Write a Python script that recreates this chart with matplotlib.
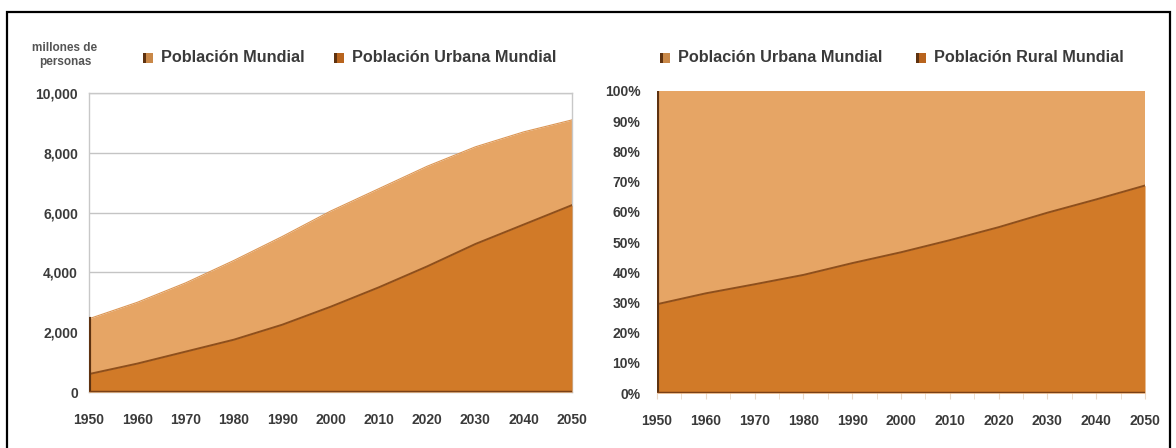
import matplotlib
matplotlib.use('Agg')
import matplotlib.pyplot as plt
from matplotlib.patches import Rectangle
from matplotlib.ticker import FuncFormatter, MultipleLocator

plt.rcParams['font.family'] = ['Liberation Sans', 'DejaVu Sans']
plt.rcParams['font.weight'] = 'bold'

years = [1950, 1960, 1970, 1980, 1990, 2000, 2010, 2020, 2030, 2040, 2050]
# millions of people
world_pop = [2450, 3000, 3650, 4400, 5200, 6050, 6800, 7550, 8200, 8700, 9100]
urban_pop = [600, 950, 1350, 1750, 2250, 2850, 3500, 4200, 4950, 5600, 6250]
# share of world population living in cities (%)
urban_share = [29.4, 33.0, 36.0, 39.1, 43.0, 46.6, 50.6, 54.9, 59.7, 64.1, 68.7]
rural_top = [100] * len(years)

light = '#E6A565'
dark = '#D17A28'
edge = '#8E4F1C'
side = '#5E3210'
text_col = '#3a3a3a'

fig = plt.figure(figsize=(11.76, 4.48), dpi=100)

# outer frame
fig.patches.append(Rectangle((7 / 1176, -0.05), 1163 / 1176, 1 - 12 / 448 + 0.05,
                             transform=fig.transFigure, fill=False,
                             edgecolor='black', linewidth=1.6))

# ---- left panel: absolute population ----
ax1 = fig.add_axes([89 / 1176, 56 / 448, 483 / 1176, 299 / 448])
ax1.fill_between(years, 0, world_pop, color=light, linewidth=0, zorder=2)
ax1.fill_between(years, 0, urban_pop, color=dark, linewidth=0, zorder=3)
ax1.plot(years, urban_pop, color=edge, linewidth=1.4, zorder=4)
ax1.plot(years, world_pop, color='#DC9654', linewidth=0.8, zorder=4)
ax1.plot([years[0], years[0]], [0, world_pop[0]], color=side, linewidth=3, zorder=5)
ax1.plot([years[0], years[-1]], [0, 0], color='#7a4016', linewidth=2.5, zorder=5)

ax1.set_xlim(1950, 2050)
ax1.set_ylim(0, 10000)
ax1.set_xticks(years)
ax1.set_yticks(range(0, 10001, 2000))
ax1.yaxis.set_major_formatter(FuncFormatter(lambda v, p: f'{int(v):,}'))
ax1.grid(axis='y', color='#c4c4c4', linewidth=1, zorder=0)
ax1.set_axisbelow(True)
for s in ax1.spines.values():
    s.set_color('#c8c8c8')
    s.set_linewidth(1)
ax1.tick_params(axis='both', length=0, labelsize=10, labelcolor=text_col)
ax1.tick_params(axis='x', pad=15)
ax1.tick_params(axis='y', pad=8)

# ---- right panel: urban vs rural share ----
ax2 = fig.add_axes([657 / 1176, 55 / 448, 488 / 1176, 302 / 448])
ax2.fill_between(years, 0, rural_top, color=light, linewidth=0, zorder=2)
ax2.fill_between(years, 0, urban_share, color=dark, linewidth=0, zorder=3)
ax2.plot(years, urban_share, color=edge, linewidth=1.4, zorder=4)
ax2.plot([years[0], years[0]], [0, 100], color=side, linewidth=3, zorder=5)
ax2.plot([years[0], years[-1]], [0, 0], color='#7a4016', linewidth=2.5, zorder=5)

ax2.set_xlim(1950, 2050)
ax2.set_ylim(0, 100)
ax2.set_xticks(years)
ax2.xaxis.set_minor_locator(MultipleLocator(5))
ax2.set_yticks(range(0, 101, 10))
ax2.yaxis.set_major_formatter(FuncFormatter(lambda v, p: f'{int(v)}%'))
for s in ax2.spines.values():
    s.set_visible(False)
ax2.tick_params(axis='y', length=0, labelsize=10, labelcolor=text_col, pad=12)
ax2.tick_params(axis='x', which='both', length=4, color='#ead9c8',
                labelsize=10, labelcolor=text_col, pad=11)

# ---- legends ----
def legend_item(x, y, label, color):
    fig.patches.append(Rectangle((x / 1176, 1 - (y + 5) / 448), 10 / 1176, 10 / 448,
                                 transform=fig.transFigure, facecolor=color,
                                 edgecolor='none'))
    fig.patches.append(Rectangle((x / 1176, 1 - (y + 5) / 448), 3 / 1176, 10 / 448,
                                 transform=fig.transFigure, facecolor=side,
                                 edgecolor='none'))
    fig.text((x + 18) / 1176, 1 - y / 448, label, fontsize=11.7, color=text_col,
             va='center', ha='left')

legend_item(143, 58, 'Población Mundial', '#C98848')
legend_item(334, 58, 'Población Urbana Mundial', '#B8641E')
legend_item(660, 58, 'Población Urbana Mundial', '#C98848')
legend_item(916, 58, 'Población Rural Mundial', '#B8641E')

fig.text(65 / 1176, 1 - 55 / 448, 'millones de\npersonas', fontsize=8.5,
         color='#555555', ha='center', va='center', linespacing=1.3)

fig.savefig('out.png', dpi=100)
